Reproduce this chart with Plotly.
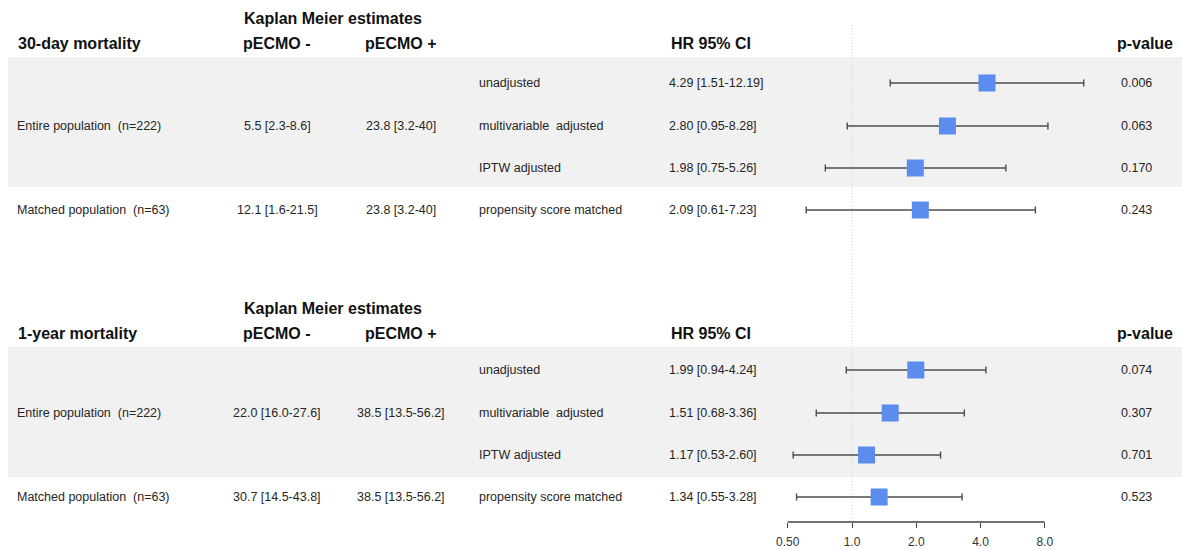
import math
import plotly.graph_objects as go

W, H = 1182, 550

# ---- data -------------------------------------------------------------
outcomes = ["30-day mortality", "1-year mortality"]
populations = ["Entire population\u00a0 (n=222)", "Matched population\u00a0 (n=63)"]
methods = ["unadjusted", "multivariable\u00a0 adjusted", "IPTW adjusted",
           "propensity score matched"]

km_neg_30d = ["5.5 [2.3-8.6]", "12.1 [1.6-21.5]"]
km_pos_30d = ["23.8 [3.2-40]", "23.8 [3.2-40]"]
km_neg_1y = ["22.0 [16.0-27.6]", "30.7 [14.5-43.8]"]
km_pos_1y = ["38.5 [13.5-56.2]", "38.5 [13.5-56.2]"]

hr_30d = [4.29, 2.80, 1.98, 2.09]
lo_30d = [1.51, 0.95, 0.75, 0.61]
hi_30d = [12.19, 8.28, 5.26, 7.23]
p_30d = ["0.006", "0.063", "0.170", "0.243"]

hr_1y = [1.99, 1.51, 1.17, 1.34]
lo_1y = [0.94, 0.68, 0.53, 0.55]
hi_1y = [4.24, 3.36, 2.60, 3.28]
p_1y = ["0.074", "0.307", "0.701", "0.523"]

tick_vals = [0.5, 1, 2, 4, 8]
tick_text = ["0.50", "1.0", "2.0", "4.0", "8.0"]

sections = [
    dict(title=outcomes[0], km_neg=km_neg_30d, km_pos=km_pos_30d,
         hr=hr_30d, lo=lo_30d, hi=hi_30d, p=p_30d),
    dict(title=outcomes[1], km_neg=km_neg_1y, km_pos=km_pos_1y,
         hr=hr_1y, lo=lo_1y, hi=hi_1y, p=p_1y),
]

# ---- layout geometry (pixels) -----------------------------------------
head_off = [0, 290]     # vertical shift of header/band per block
row_off = [0, 287]      # vertical shift of data rows per block
km_title_y = 18
header_y = 43
band_y = (57, 187)
row_y = [83, 126, 168, 210]
pop_row = [1, 3]        # which row each population label sits on

col_label = 15
col_km_neg = 277
col_km_pos = 401
col_method = 477
col_hr = 667
col_p = 1136
col_p_head = 1115

# forest axis: 1.0 at x=852 px, 64.25 px per doubling
px_one, px_per_dbl = 852, 64.25
ax_left, ax_right = 760, 1100
axis_y = 522

BODY = dict(family="Liberation Sans, Arial, sans-serif", size=12.5, color="#262626")
BOLD = dict(family="Liberation Sans, Arial, sans-serif", size=16, color="#111111")
BLUE = "#5b8def"
CI_COLOR = "#4d4d4d"


def px(x):
    return x / W


fig = go.Figure()
annotations = []
shapes = []


def text(x, y, s, font, anchor="left"):
    annotations.append(dict(
        x=px(x), y=y, xref="paper", yref="y", text=s, showarrow=False,
        xanchor=anchor, yanchor="middle", font=font))


for i, sec in enumerate(sections):
    ho, ro = head_off[i], row_off[i]

    # shaded block behind the entire-population rows
    shapes.append(dict(type="rect", xref="paper", yref="y",
                       x0=px(8), x1=1, y0=band_y[0] + ho, y1=band_y[1] + ho,
                       fillcolor="#f1f1f1", line=dict(width=0), layer="below"))

    # headers
    text(col_km_neg + 56, km_title_y + ho, "<b>Kaplan Meier estimates</b>", BOLD, "center")
    text(col_label + 1, header_y + ho, "<b>" + sec["title"] + "</b>", BOLD)
    text(col_km_neg, header_y + ho, "<b>pECMO -</b>", BOLD, "center")
    text(col_km_pos, header_y + ho, "<b>pECMO +</b>", BOLD, "center")
    text(col_hr + 2, header_y + ho, "<b>HR 95% CI</b>", BOLD)
    text(col_p_head, header_y + ho, "<b>p-value</b>", BOLD)

    # population rows with Kaplan-Meier estimates
    for j, pop in enumerate(populations):
        y = row_y[pop_row[j]] + ro
        text(col_label, y, pop, BODY)
        text(col_km_neg, y, sec["km_neg"][j], BODY, "center")
        text(col_km_pos, y, sec["km_pos"][j], BODY, "center")

    # hazard ratio rows
    ys = [r + ro for r in row_y]
    for j, m in enumerate(methods):
        text(col_method, ys[j], m, BODY)
        text(col_hr, ys[j],
             f"{sec['hr'][j]:.2f} [{sec['lo'][j]:.2f}-{sec['hi'][j]:.2f}]", BODY)
        text(col_p, ys[j], sec["p"][j], BODY, "center")

    fig.add_trace(go.Scatter(
        x=sec["hr"], y=ys, mode="markers",
        marker=dict(symbol="square", size=17, color=BLUE, line=dict(width=0)),
        error_x=dict(type="data", symmetric=False,
                     array=[h - m for h, m in zip(sec["hi"], sec["hr"])],
                     arrayminus=[m - l for m, l in zip(sec["hr"], sec["lo"])],
                     color=CI_COLOR, thickness=1.4, width=3.5),
        hoverinfo="skip", showlegend=False,
    ))

# reference line at HR = 1
shapes.append(dict(type="line", xref="x", yref="y", x0=1, x1=1, y0=25, y1=519,
                   line=dict(color="#cfcfcf", width=1, dash="1px,2px"), layer="below"))
# axis baseline spanning the tick range
shapes.append(dict(type="line", xref="x", yref="y", x0=tick_vals[0], x1=tick_vals[-1],
                   y0=axis_y, y1=axis_y, line=dict(color="#444444", width=1.3)))

l2 = math.log10(2)
x_range = [(ax_left - px_one) / px_per_dbl * l2, (ax_right - px_one) / px_per_dbl * l2]

fig.update_layout(
    width=W, height=H,
    margin=dict(l=0, r=0, t=0, b=0),
    paper_bgcolor="white", plot_bgcolor="rgba(0,0,0,0)",
    showlegend=False,
    xaxis=dict(type="log", domain=[px(ax_left), px(ax_right)], range=x_range,
               anchor="free", position=1 - axis_y / H,
               showline=False, showgrid=False, zeroline=False,
               ticks="outside", ticklen=5, tickwidth=1.3, tickcolor="#444444",
               tickvals=tick_vals, ticktext=tick_text, ticklabelstandoff=4,
               tickfont=dict(family="Liberation Sans, Arial, sans-serif", size=12, color="#333333"),
               fixedrange=True),
    yaxis=dict(range=[H, 0], domain=[0, 1], visible=False, fixedrange=True),
    annotations=annotations,
    shapes=shapes,
)

fig.write_html("out.html")
